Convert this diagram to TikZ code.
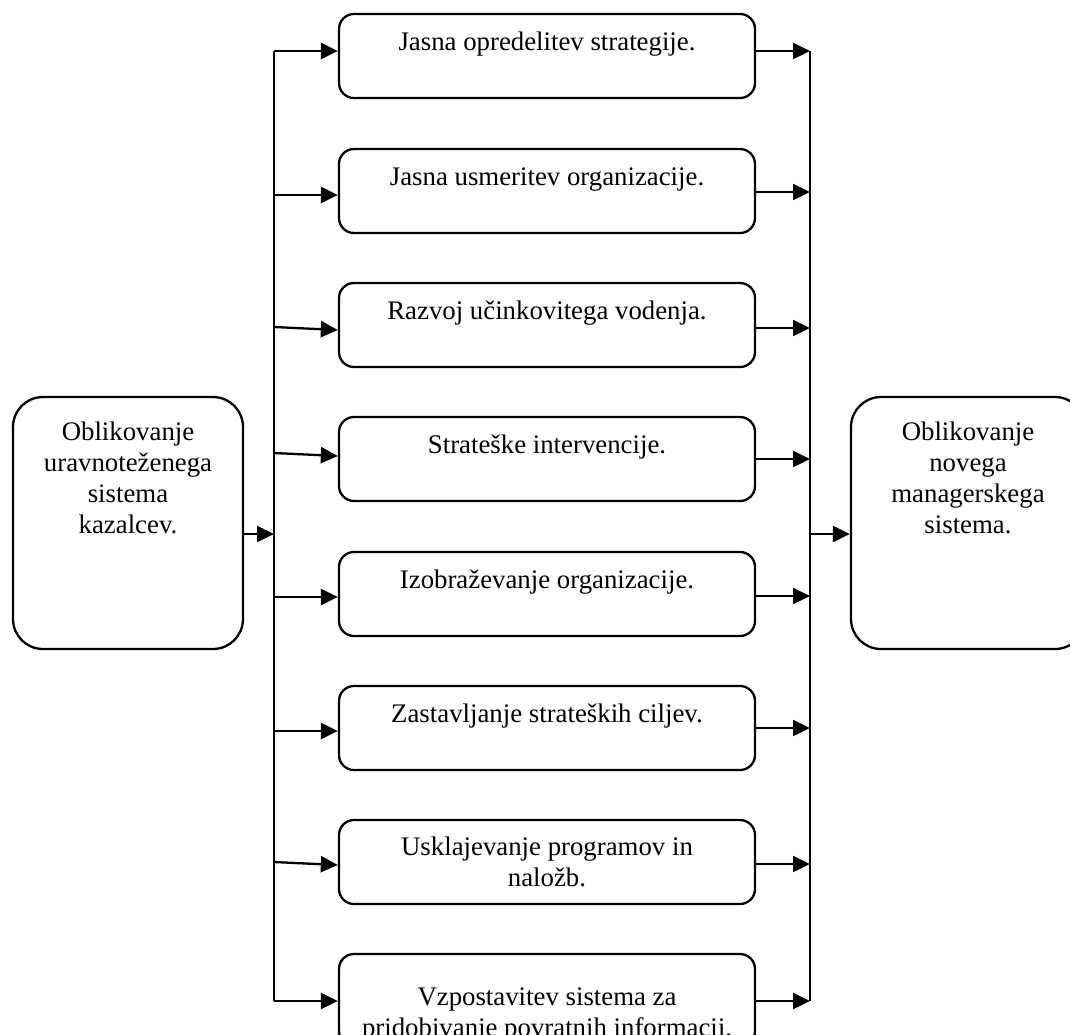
\documentclass[tikz,border=0pt]{standalone}
\usepackage{fontspec}
\setmainfont{Liberation Serif}
\usetikzlibrary{arrows.meta}
\begin{document}
\begin{tikzpicture}[x=1pt,y=-1pt,
  stepbox/.style={draw=black, line width=2.3pt, rounded corners=15pt, rectangle,
    minimum width=416pt, minimum height=84pt, inner sep=0pt},
  sidebox/.style={draw=black, line width=2.3pt, rounded corners=30pt, rectangle,
    minimum width=230pt, minimum height=252pt, inner sep=0pt},
  boxtext/.style={font=\fontsize{26.8pt}{31pt}\selectfont, align=center,
    anchor=base, inner sep=0pt},
  flow/.style={line width=2.3pt, -{Triangle[length=17pt, width=16pt]}},
  bus/.style={line width=2.3pt}
]
\clip (0,0) rectangle (1070,1034);

% central steps
\node[stepbox] (b1) at (547,56) {};
\node[stepbox] (b2) at (547,191) {};
\node[stepbox] (b3) at (547,325) {};
\node[stepbox] (b4) at (547,459) {};
\node[stepbox] (b5) at (547,594) {};
\node[stepbox] (b6) at (547,728) {};
\node[stepbox] (b7) at (547,862) {};
\node[stepbox, minimum height=92pt] (b8) at (547,1000) {};

% step labels (base anchor sits on the last line)
\node[boxtext] (t1) at ([yshift=-38pt]b1.north) {Jasna opredelitev strategije.};
\node[boxtext] (t2) at ([yshift=-38pt]b2.north) {Jasna usmeritev organizacije.};
\node[boxtext] (t3) at ([yshift=-38pt]b3.north) {Razvoj učinkovitega vodenja.};
\node[boxtext] (t4) at ([yshift=-38pt]b4.north) {Strateške intervencije.};
\node[boxtext] (t5) at ([yshift=-38pt]b5.north) {Izobraževanje organizacije.};
\node[boxtext] (t6) at ([yshift=-38pt]b6.north) {Zastavljanje strateških ciljev.};
\node[boxtext] (t7) at ([yshift=-68pt]b7.north) {Usklajevanje programov in\\naložb.};
\node[boxtext] (t8) at ([yshift=-84pt]b8.north) {Vzpostavitev sistema za\\pridobivanje povratnih informacij.};

% side boxes
\node[sidebox] (L) at (128,523) {};
\node[boxtext] (tl) at ([yshift=-138pt]L.north) {Oblikovanje\\uravnoteženega\\sistema\\kazalcev.};
\node[sidebox, minimum width=234pt] (R) at (968,523) {};
\node[boxtext] (tr) at ([yshift=-138pt]R.north) {Oblikovanje\\novega\\managerskega\\sistema.};

% distribution bus (left) and collecting bus (right)
\coordinate (la) at (274,51);
\coordinate (lz) at (274,1001);
\coordinate (ra) at (810,51);
\coordinate (rz) at (810,1001);
\draw[bus] (la) -- (lz);
\draw[bus] (ra) -- (rz);

\draw[flow] (L.east |- 0,534) -- (274,534);
\draw[flow] (810,534) -- (R.west |- 0,534);

% bus to steps
\draw[flow] (la) -- (b1.west |- la);
\draw[flow] (274,195) -- (b2.west |- 0,195);
\draw[flow] (274,327) -- (b3.west |- 0,330);
\draw[flow] (274,453) -- (b4.west |- 0,456);
\draw[flow] (274,597) -- (b5.west |- 0,597);
\draw[flow] (274,731) -- (b6.west |- 0,731);
\draw[flow] (274,862) -- (b7.west |- 0,865);
\draw[flow] (lz) -- (b8.west |- lz);

% steps to bus
\draw[flow] (b1.east |- ra) -- (ra);
\draw[flow] (b2.east |- 0,192) -- (810,192);
\draw[flow] (b3.east |- 0,328) -- (810,328);
\draw[flow] (b4.east |- 0,459) -- (810,459);
\draw[flow] (b5.east |- 0,596) -- (810,596);
\draw[flow] (b6.east |- 0,728) -- (810,728);
\draw[flow] (b7.east |- 0,864) -- (810,864);
\draw[flow] (b8.east |- rz) -- (rz);
\end{tikzpicture}
\end{document}
